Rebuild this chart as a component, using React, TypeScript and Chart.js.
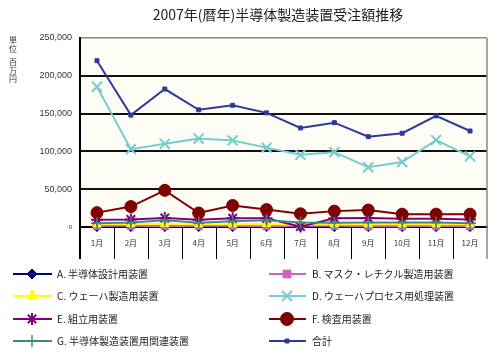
import React, { useEffect, useRef } from 'react';
import { Chart, registerables } from 'chart.js';
import { drawPoint } from 'chart.js/helpers';

Chart.register(...registerables);

const months = ['1月', '2月', '3月', '4月', '5月', '6月', '7月', '8月', '9月', '10月', '11月', '12月'];
const yTickValues = [0, 50000, 100000, 150000, 200000, 250000];

const seriesNames = [
  'A. 半導体設計用装置',
  'B. マスク・レチクル製造用装置',
  'C. ウェーハ製造用装置',
  'D. ウェーハプロセス用処理装置',
  'E. 組立用装置',
  'F. 検査用装置',
  'G. 半導体製造装置用関連装置',
  '合計',
];

const seriesA = [500, 500, 500, 500, 500, 500, 500, 500, 500, 500, 500, 500];
const seriesB = [1500, 1500, 1000, 1500, 1500, 1000, 1500, 1500, 1000, 1000, 1500, 1000];
const seriesC = [3500, 4000, 4000, 3500, 3500, 4000, 3000, 3500, 3500, 3500, 3500, 3500];
const seriesD = [185500, 103000, 110000, 117000, 114500, 105000, 95500, 99000, 79000, 86000, 115000, 93500];
const seriesE = [9500, 10000, 12000, 9500, 11500, 11500, 500, 11500, 12000, 11000, 11000, 10000];
const seriesF = [19000, 27000, 48500, 18500, 28500, 23000, 17500, 21000, 22500, 17000, 17000, 17000];
const seriesG = [5000, 6000, 9000, 5500, 7500, 9000, 6000, 5500, 6000, 6000, 6000, 5000];
const seriesTotal = [220000, 148000, 182500, 155000, 161000, 151000, 131000, 138000, 119500, 124000, 147000, 127000];

const styles = [
  { color: '#000080', fill: '#000080', pointStyle: 'rectRot', radius: 5, bw: 1, lr: 5 },
  { color: '#d060c0', fill: '#d060c0', pointStyle: 'rect', radius: 5, bw: 1, lr: 5.5 },
  { color: '#ffff00', fill: '#ffff00', pointStyle: 'triangle', radius: 5, bw: 1, lr: 6 },
  { color: '#77cccc', fill: '#77cccc', pointStyle: 'crossRot', radius: 7, bw: 2, lr: 7 },
  { color: '#800080', fill: '#800080', pointStyle: 'star', radius: 6, bw: 2, lr: 6 },
  { color: '#800000', fill: '#800000', pointStyle: 'circle', radius: 6, bw: 1, lr: 6.5 },
  { color: '#3f8a80', fill: '#3f8a80', pointStyle: 'cross', radius: 6, bw: 1.5, lr: 6 },
  { color: '#2b3a9a', fill: '#2b3a9a', pointStyle: 'rect', radius: 2.8, bw: 1, lr: 2.8 },
];

const seriesData = [seriesA, seriesB, seriesC, seriesD, seriesE, seriesF, seriesG, seriesTotal];

const JP = "'Noto Sans CJK JP', 'Liberation Sans', sans-serif";
const NUM = "'Liberation Sans', Arial, sans-serif";

const decorPlugin = {
  id: 'decor',
  beforeDraw(chart: any) {
    const { ctx, chartArea: a } = chart;
    ctx.save();
    ctx.fillStyle = '#ffffff';
    ctx.fillRect(0, 0, chart.width, chart.height);
    ctx.fillStyle = '#fdfdf5';
    ctx.fillRect(a.left, a.top, a.right - a.left, a.bottom - a.top);
    ctx.restore();
  },
  afterDraw(chart: any) {
    const { ctx, chartArea: a } = chart;
    const n = months.length;
    const w = (a.right - a.left) / n;
    const sepBottom = 259;
    ctx.save();
    // category separators
    ctx.strokeStyle = '#000';
    ctx.lineWidth = 1;
    for (let i = 1; i < n; i++) {
      const x = Math.round(a.left + i * w) + 0.5;
      ctx.beginPath();
      ctx.moveTo(x, a.bottom);
      ctx.lineTo(x, sepBottom);
      ctx.stroke();
    }
    // left axis extension
    ctx.lineWidth = 2;
    ctx.beginPath();
    ctx.moveTo(a.left, a.top);
    ctx.lineTo(a.left, sepBottom);
    ctx.stroke();
    // right border
    ctx.strokeStyle = '#888';
    ctx.lineWidth = 1.5;
    ctx.beginPath();
    ctx.moveTo(a.right, a.top);
    ctx.lineTo(a.right, sepBottom);
    ctx.stroke();

    // title
    ctx.fillStyle = '#222';
    ctx.font = `14px ${JP}`;
    ctx.textAlign = 'center';
    ctx.textBaseline = 'middle';
    ctx.fillText('2007年(暦年)半導体製造装置受注額推移', 278, 15);

    // unit label (stacked vertically)
    ctx.font = `8px ${JP}`;
    ctx.fillStyle = '#333';
    const unitChars: [string, number][] = [['単', 40], ['位', 48.5], ['百', 62], ['万', 70.5], ['円', 79]];
    unitChars.forEach(([c, y]) => ctx.fillText(c, 13, y));

    // legend
    const rows = [274, 296, 319, 341];
    const cols = [
      { x0: 13, x1: 52, mx: 32, tx: 57 },
      { x0: 269, x1: 306, mx: 287, tx: 312 },
    ];
    ctx.textAlign = 'left';
    ctx.textBaseline = 'middle';
    seriesNames.forEach((name, i) => {
      const col = cols[i % 2];
      const y = rows[Math.floor(i / 2)];
      const s = styles[i];
      ctx.strokeStyle = s.color;
      ctx.lineWidth = 2;
      ctx.beginPath();
      ctx.moveTo(col.x0, y);
      ctx.lineTo(col.x1, y);
      ctx.stroke();
      ctx.fillStyle = s.fill;
      ctx.strokeStyle = s.color;
      ctx.lineWidth = s.bw;
      drawPoint(ctx, { pointStyle: s.pointStyle as any, radius: s.lr, rotation: 0, borderWidth: s.bw } as any, col.mx, y);
      ctx.fillStyle = '#222';
      ctx.font = `10px ${JP}`;
      ctx.fillText(name, col.tx, y);
    });
    ctx.restore();
  },
};

export default function App() {
  const ref = useRef<HTMLCanvasElement | null>(null);
  useEffect(() => {
    if (!ref.current) return;
    const datasets = seriesNames.map((name, i) => ({
      label: name,
      data: seriesData[i],
      order: seriesNames.length - i,
      borderColor: styles[i].color,
      backgroundColor: styles[i].fill,
      pointBackgroundColor: styles[i].fill,
      pointBorderColor: styles[i].color,
      pointStyle: styles[i].pointStyle as any,
      pointRadius: styles[i].radius,
      pointBorderWidth: styles[i].bw,
      borderWidth: 2,
      tension: 0,
      fill: false,
      clip: false as any,
    }));
    const chart = new Chart(ref.current, {
      type: 'line',
      data: { labels: months, datasets },
      options: {
        animation: false,
        responsive: false,
        devicePixelRatio: 1,
        layout: { padding: { top: 38, right: 13, bottom: 97, left: 0 } },
        plugins: {
          legend: { display: false },
          title: { display: false },
          tooltip: { enabled: false },
        },
        scales: {
          x: {
            offset: true,
            grid: { display: false, drawTicks: false, tickLength: 0 },
            border: { display: true, color: '#000', width: 2 },
            ticks: {
              padding: 11,
              color: '#333',
              font: { size: 8, family: JP },
              maxRotation: 0,
              autoSkip: false,
            },
            afterFit: (s: any) => {
              s.height = 32;
            },
          },
          y: {
            min: 0,
            max: 250000,
            afterBuildTicks: (s: any) => {
              s.ticks = yTickValues.map((v) => ({ value: v }));
            },
            grid: {
              drawTicks: false,
              tickLength: 0,
              color: (c: any) => (c.tick && c.tick.value === 250000 ? '#888' : '#111'),
              lineWidth: (c: any) => (c.tick && c.tick.value === 250000 ? 1.5 : 2),
            },
            border: { display: true, color: '#000', width: 2 },
            ticks: {
              padding: 8,
              color: '#333',
              font: (c: any) =>
                c.tick && c.tick.value === 0
                  ? { size: 6, family: NUM }
                  : { size: 9, family: NUM },
              callback: (v: any) => Number(v).toLocaleString('en-US'),
            },
            afterFit: (s: any) => {
              s.width = 80;
            },
          },
        },
      },
      plugins: [decorPlugin],
    });
    return () => chart.destroy();
  }, []);
  return (
    <div style={{ position: 'fixed', left: 0, top: 0, width: 500, height: 356, background: '#fff' }}>
      <canvas ref={ref} width={500} height={356} style={{ width: 500, height: 356, display: 'block' }} />
    </div>
  );
}
